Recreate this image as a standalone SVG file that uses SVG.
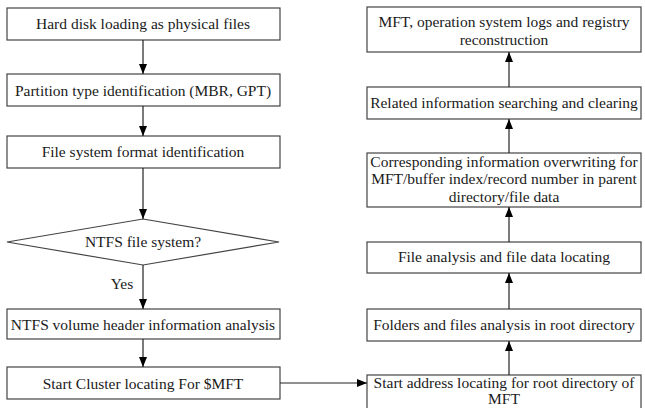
<svg xmlns="http://www.w3.org/2000/svg" width="645" height="408" viewBox="0 0 645 408">
<defs>
<marker id="ah" markerWidth="10" markerHeight="8" refX="10" refY="4" orient="auto" markerUnits="userSpaceOnUse">
<path d="M0,0 L10,4 L0,8 Z" fill="#000"/>
</marker>
<style>
.b{fill:#fff;stroke:#444;stroke-width:1.2}
.t{font-size:15.5px;fill:#1a1a1a;text-anchor:middle}
.c{stroke:#222;stroke-width:1.2;fill:none;marker-end:url(#ah)}
</style>
</defs>
<rect width="645" height="408" fill="#fff"/>
<g font-family="'Liberation Serif', 'DejaVu Serif', serif">
<g id="n1"><rect class="b" x="7" y="8" width="273" height="32"/><text class="t" x="143" y="29">Hard disk loading as physical files</text></g>
<g id="n2"><rect class="b" x="7" y="74" width="273" height="32"/><text class="t" x="143" y="96">Partition type identification (MBR, GPT)</text></g>
<g id="n3"><rect class="b" x="7" y="136" width="273" height="32"/><text class="t" x="143" y="157">File system format identification</text></g>
<g id="n4"><polygon class="b" points="143,219 279,242 143,265 7,242"/><text class="t" x="143" y="247">NTFS file system?</text></g>
<g id="n5"><rect class="b" x="7" y="309" width="273" height="30"/><text class="t" x="143" y="330">NTFS volume header information analysis</text></g>
<g id="n6"><rect class="b" x="7" y="367" width="273" height="32"/><text class="t" x="143" y="389">Start Cluster locating For $MFT</text></g>
<g id="r1"><rect class="b" x="367" y="7" width="274" height="45"/><text class="t" x="504" y="27">MFT, operation system logs and registry</text><text class="t" x="504" y="45">reconstruction</text></g>
<g id="r2"><rect class="b" x="367" y="87" width="274" height="32"/><text class="t" x="504" y="108">Related information searching and clearing</text></g>
<g id="r3"><rect class="b" x="367" y="153" width="274" height="54"/><text class="t" x="504" y="167">Corresponding information overwriting for</text><text class="t" x="504" y="184">MFT/buffer index/record number in parent</text><text class="t" x="504" y="202">directory/file data</text></g>
<g id="r4"><rect class="b" x="367" y="242" width="274" height="31"/><text class="t" x="504" y="262">File analysis and file data locating</text></g>
<g id="r5"><rect class="b" x="367" y="309" width="274" height="32"/><text class="t" x="504" y="330">Folders and files analysis in root directory</text></g>
<g id="r6"><rect class="b" x="367" y="375" width="274" height="34"/><text class="t" x="504" y="388">Start address locating for root directory of</text><text class="t" x="504" y="404">MFT</text></g>
<g id="connectors">
<line class="c" x1="143" y1="40" x2="143" y2="74"/>
<line class="c" x1="143" y1="106" x2="143" y2="136"/>
<line class="c" x1="143" y1="168" x2="143" y2="219"/>
<line class="c" x1="143" y1="265" x2="143" y2="309"/>
<line class="c" x1="143" y1="339" x2="143" y2="367"/>
<line class="c" x1="280" y1="383" x2="367" y2="383"/>
<line class="c" x1="509" y1="375" x2="509" y2="341"/>
<line class="c" x1="509" y1="309" x2="509" y2="273"/>
<line class="c" x1="509" y1="242" x2="509" y2="207"/>
<line class="c" x1="509" y1="153" x2="509" y2="119"/>
<line class="c" x1="509" y1="87" x2="509" y2="52"/>
<text class="t" x="122" y="289">Yes</text>
</g>
</g>
</svg>
